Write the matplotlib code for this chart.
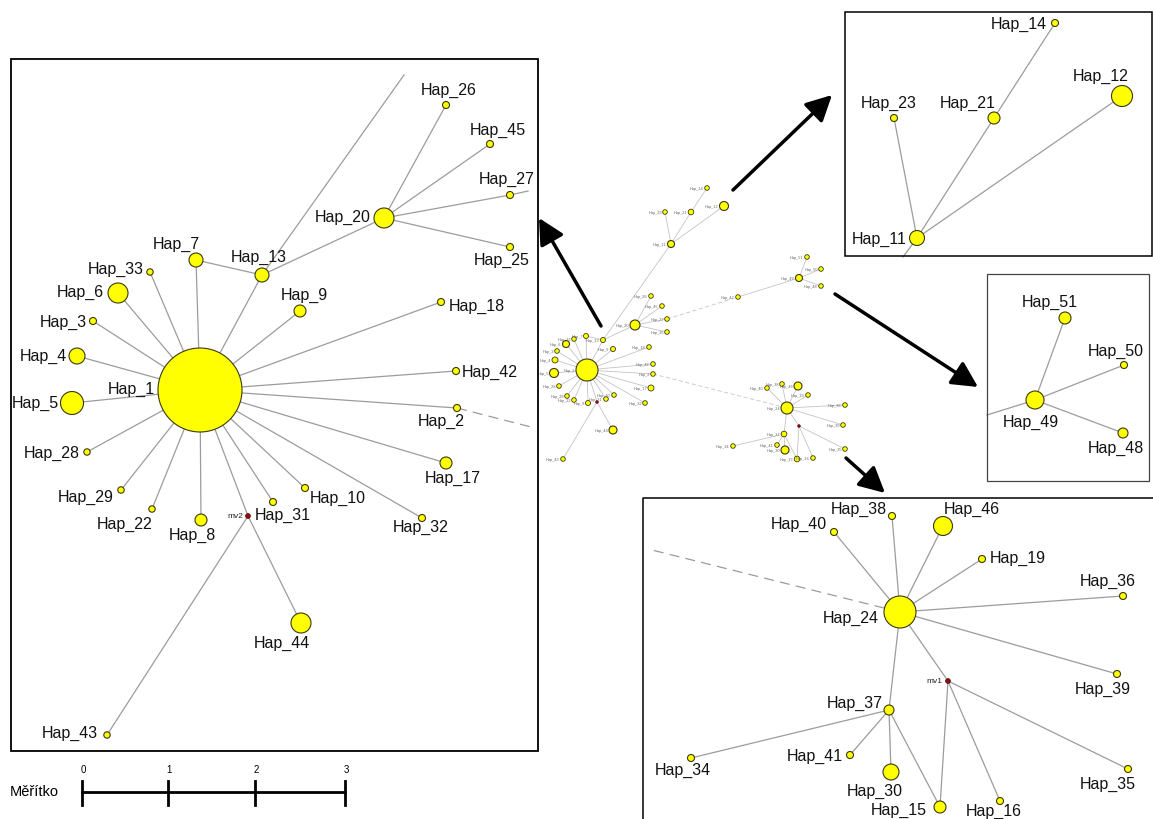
import matplotlib
matplotlib.use('Agg')
import matplotlib.pyplot as plt
from matplotlib.patches import Circle

plt.rcParams['font.family'] = ['Liberation Sans', 'DejaVu Sans']

# ---- data: node name, position (px), radius (haplotype frequency) ----
# left panel - Hap_1 star
a_names = ['Hap_1', 'Hap_5', 'Hap_4', 'Hap_3', 'Hap_6', 'Hap_33', 'Hap_7', 'Hap_13', 'Hap_20',
           'Hap_26', 'Hap_45', 'Hap_27', 'Hap_25', 'Hap_9', 'Hap_18', 'Hap_42', 'Hap_2', 'Hap_17',
           'Hap_32', 'Hap_10', 'Hap_31', 'mv2', 'Hap_8', 'Hap_22', 'Hap_29', 'Hap_28', 'Hap_44', 'Hap_43']
a_x = [200, 72, 77, 93, 118, 150, 196, 262, 384, 446, 490, 510, 510, 300, 441, 456, 457, 446,
       422, 305, 273, 248, 201, 152, 121, 87, 301, 107]
a_y = [391, 404, 357, 322, 294, 273, 261, 276, 219, 106, 145, 196, 248, 312, 303, 372, 409, 464,
       519, 489, 503, 517, 521, 510, 491, 453, 624, 736]
a_r = [42, 11.5, 8, 3.5, 10, 3.2, 7, 7, 10, 3.5, 3.5, 3.5, 3.5, 6, 3.5, 3.5, 3.5, 6,
       3.5, 3.5, 3.5, 2.4, 6, 3.2, 3.2, 3.2, 10, 3.2]
a_edges = [('Hap_1', n) for n in ['Hap_5', 'Hap_4', 'Hap_3', 'Hap_6', 'Hap_33', 'Hap_7', 'Hap_13',
                                   'Hap_9', 'Hap_18', 'Hap_42', 'Hap_2', 'Hap_17', 'Hap_32', 'Hap_10',
                                   'Hap_31', 'mv2', 'Hap_8', 'Hap_22', 'Hap_29', 'Hap_28']]
a_edges += [('Hap_7', 'Hap_13'), ('Hap_13', 'Hap_20'), ('Hap_20', 'Hap_26'), ('Hap_20', 'Hap_45'),
            ('Hap_20', 'Hap_27'), ('Hap_20', 'Hap_25'), ('mv2', 'Hap_44'), ('mv2', 'Hap_43')]

# top right panel - Hap_11
b_names = ['Hap_11', 'Hap_23', 'Hap_21', 'Hap_14', 'Hap_12']
b_x = [917, 894, 994, 1055, 1122]
b_y = [239, 119, 119, 24, 97]
b_r = [7.5, 3.5, 6, 3.5, 10.5]
b_edges = [('Hap_11', 'Hap_23'), ('Hap_11', 'Hap_21'), ('Hap_21', 'Hap_14'), ('Hap_11', 'Hap_12')]

# middle right panel - Hap_49
c_names = ['Hap_49', 'Hap_51', 'Hap_50', 'Hap_48']
c_x = [1035, 1065, 1124, 1123]
c_y = [401, 319, 366, 434]
c_r = [9, 6, 3.5, 5]
c_edges = [('Hap_49', 'Hap_51'), ('Hap_49', 'Hap_50'), ('Hap_49', 'Hap_48')]

# bottom right panel - Hap_24
d_names = ['Hap_24', 'Hap_40', 'Hap_38', 'Hap_46', 'Hap_19', 'Hap_36', 'Hap_39', 'mv1', 'Hap_37',
           'Hap_34', 'Hap_41', 'Hap_30', 'Hap_15', 'Hap_16', 'Hap_35']
d_x = [900, 834, 892, 943, 982, 1123, 1117, 948, 889, 691, 850, 891, 940, 1000, 1128]
d_y = [613, 533, 517, 527, 560, 597, 675, 682, 711, 759, 756, 773, 808, 802, 770]
d_r = [16, 3.5, 3.5, 9.5, 3.5, 3.5, 3.5, 2.4, 5, 3.5, 3.5, 8, 6, 3.5, 3.5]
d_edges = [('Hap_24', n) for n in ['Hap_40', 'Hap_38', 'Hap_46', 'Hap_19', 'Hap_36', 'Hap_39', 'mv1', 'Hap_37']]
d_edges += [('Hap_37', 'Hap_34'), ('Hap_37', 'Hap_41'), ('Hap_37', 'Hap_30'), ('Hap_37', 'Hap_15'),
            ('mv1', 'Hap_15'), ('mv1', 'Hap_16'), ('mv1', 'Hap_35')]

# overview network in the middle
o_names = ['Hap_1', 'Hap_5', 'Hap_4', 'Hap_3', 'Hap_6', 'Hap_33', 'Hap_7', 'Hap_13', 'Hap_9',
           'Hap_18', 'Hap_42', 'Hap_2', 'Hap_17', 'Hap_32', 'Hap_10', 'Hap_31', 'mv2', 'Hap_8',
           'Hap_22', 'Hap_29', 'Hap_28', 'Hap_44', 'Hap_43', 'Hap_20', 'Hap_26', 'Hap_45', 'Hap_27',
           'Hap_25', 'Hap_11', 'Hap_23', 'Hap_21', 'Hap_14', 'Hap_12', 'Hap_47', 'Hap_49', 'Hap_51',
           'Hap_50', 'Hap_48', 'Hap_24', 'Hap_40', 'Hap_38', 'Hap_46', 'Hap_19', 'Hap_36', 'Hap_39',
           'mv1', 'Hap_37', 'Hap_34', 'Hap_41', 'Hap_30', 'Hap_15', 'Hap_16', 'Hap_35']
o_x = [587, 554, 555, 557, 566, 574, 586, 603, 613, 649, 653, 653, 651, 645, 614, 606, 597, 588,
       574, 567, 559, 613, 563, 635, 651, 662, 667, 667, 671, 665, 691, 707, 724, 738, 799, 807,
       821, 821, 787, 767, 782, 798, 808, 845, 843, 799, 784, 733, 777, 785, 797, 813, 845]
o_y = [371, 374, 361, 352, 345, 340, 337, 341, 350, 348, 365, 375, 389, 404, 396, 400, 403, 404,
       401, 397, 387, 431, 460, 326, 297, 307, 320, 333, 245, 213, 213, 189, 207, 298, 279, 258,
       270, 287, 409, 389, 385, 387, 396, 406, 426, 427, 435, 447, 446, 451, 460, 459, 450]
o_r = [11, 4.5, 3, 2.3, 3.5, 2.3, 2.5, 2.5, 2.5, 2.3, 2.3, 2.3, 3, 2.3, 2.3, 2.3, 1.3, 2.5,
       2.3, 2.3, 2.3, 4, 2.3, 5, 2.3, 2.3, 2.3, 2.3, 3.5, 2.3, 2.8, 2.3, 4.5, 2.3, 3.5, 2.3,
       2.3, 2.3, 6, 2.3, 2.3, 4, 2.3, 2.3, 2.3, 1.3, 2.8, 2.3, 2.3, 4, 2.8, 2.3, 2.3]
o_edges = a_edges + b_edges + c_edges + d_edges + [('Hap_13', 'Hap_11'), ('Hap_47', 'Hap_49')]
o_dashed = [('Hap_27', 'Hap_47'), ('Hap_2', 'Hap_24')]

# ---- layout: labels (x, y, ha) ----
a_lab = [(155, 389, 'right'), (59, 403, 'right'), (67, 356, 'right'), (87, 322, 'right'),
         (104, 292, 'right'), (144, 269, 'right'), (176, 244, 'center'), (259, 257, 'center'),
         (371, 217, 'right'), (449, 90, 'center'), (498, 130, 'center'), (507, 179, 'center'),
         (502, 260, 'center'), (304, 295, 'center'), (449, 306, 'left'), (462, 372, 'left'),
         (441, 421, 'center'), (453, 478, 'center'), (421, 527, 'center'), (310, 498, 'left'),
         (255, 515, 'left'), (243, 517, 'right'), (192, 535, 'center'), (125, 524, 'center'),
         (114, 497, 'right'), (80, 453, 'right'), (282, 643, 'center'), (98, 733, 'right')]
b_lab = [(907, 239, 'right'), (889, 103, 'center'), (968, 103, 'center'), (1047, 24, 'right'),
         (1101, 76, 'center')]
c_lab = [(1031, 422, 'center'), (1050, 302, 'center'), (1116, 351, 'center'), (1116, 448, 'center')]
d_lab = [(879, 618, 'right'), (799, 524, 'center'), (859, 509, 'center'), (972, 509, 'center'),
         (990, 558, 'left'), (1108, 581, 'center'), (1103, 689, 'center'), (942, 682, 'right'),
         (883, 703, 'right'), (683, 770, 'center'), (843, 756, 'right'), (875, 791, 'center'),
         (927, 810, 'right'), (994, 811, 'center'), (1108, 784, 'center')]

# edges leaving a panel (node, end x, end y, dashed)
stubs = [('Hap_13', 404, 76, False), ('Hap_27', 528, 192, False), ('Hap_2', 531, 428, True),
         ('Hap_11', 903, 258, False), ('Hap_49', 987, 416, False), ('Hap_24', 648, 550, True)]

EDGE = '#9c9c9c'
FILL = '#ffff00'
RIM = '#3a3a10'


def draw_net(ax, names, xs, ys, rs, edges, labels, lw=0.9, color=EDGE, fs=11.5):
    pos = {n: (x, y) for n, x, y in zip(names, xs, ys)}
    for s, t in edges:
        if s in pos and t in pos:
            ax.plot([pos[s][0], pos[t][0]], [pos[s][1], pos[t][1]], color=color, lw=lw, zorder=1)
    for n, x, y, r in zip(names, xs, ys, rs):
        if n.startswith('mv'):
            ax.add_patch(Circle((x, y), r, facecolor='#8b1010', edgecolor='#5a0000', lw=0.5, zorder=3))
        else:
            ax.add_patch(Circle((x, y), r, facecolor=FILL, edgecolor=RIM, lw=0.8 if r > 3 else 0.6, zorder=3))
    if labels is None:
        return pos
    for n, (lx, ly, ha) in zip(names, labels):
        if n.startswith('mv'):
            ax.text(lx, ly, n, fontsize=6, ha=ha, va='center', color='#222222', zorder=4)
        else:
            ax.text(lx, ly, n, fontsize=fs, ha=ha, va='center', color='#111111', zorder=4)
    return pos


fig = plt.figure(figsize=(11.53, 8.2), dpi=100)
ax = fig.add_axes([0, 0, 1, 1])
ax.set_xlim(0, 1153)
ax.set_ylim(820, 0)
ax.axis('off')

# panel frames
ax.add_patch(plt.Rectangle((11, 60), 527, 692, fill=False, ec='black', lw=1.3, zorder=5))
ax.add_patch(plt.Rectangle((845, 13), 307, 244, fill=False, ec='black', lw=1.1, zorder=5))
ax.add_patch(plt.Rectangle((987, 275), 162, 207, fill=False, ec='#444444', lw=0.9, zorder=5))
ax.plot([643, 643, 1153], [820, 499, 499], color='black', lw=1.1, zorder=5)

pos_all = {}
pos_all.update(draw_net(ax, a_names, a_x, a_y, a_r, a_edges, a_lab))
pos_all.update(draw_net(ax, b_names, b_x, b_y, b_r, b_edges, b_lab))
pos_all.update(draw_net(ax, c_names, c_x, c_y, c_r, c_edges, c_lab))
pos_all.update(draw_net(ax, d_names, d_x, d_y, d_r, d_edges, d_lab))

for n, ex, ey, dashed in stubs:
    sx, sy = pos_all[n]
    ax.plot([sx, ex], [sy, ey], color=EDGE, lw=0.9, ls=(0, (8, 5)) if dashed else '-', zorder=1)

# overview network
opos = draw_net(ax, o_names, o_x, o_y, o_r, o_edges, None, lw=0.6, color='#c4c4c4')
for s, t in o_dashed:
    ax.plot([opos[s][0], opos[t][0]], [opos[s][1], opos[t][1]], color='#c4c4c4', lw=0.6,
            ls=(0, (5, 3)), zorder=1)
for n, x, y, r in zip(o_names, o_x, o_y, o_r):
    if not n.startswith('mv'):
        ax.text(x - r - 1, y, n, fontsize=2.8, ha='right', va='center', color='#666666', zorder=4)

# arrows from the overview to the panels
arrows = [((601, 327), (539, 219)), ((733, 191), (832, 96)),
          ((835, 295), (978, 388)), ((846, 459), (885, 494))]
for tail, head in arrows:
    ax.annotate('', xy=head, xytext=tail,
                arrowprops=dict(arrowstyle='-|>,head_length=0.78,head_width=0.4', lw=2.5,
                                color='black', shrinkA=0, shrinkB=0, mutation_scale=20))

# scale bar
scale_vals = [0, 1, 2, 3]
scale_px = [82, 168, 255, 345]
ax.plot([scale_px[0], scale_px[-1]], [793, 793], color='black', lw=2, zorder=5)
for v, px in zip(scale_vals, scale_px):
    ax.plot([px, px], [782, 806], color='black', lw=2, zorder=5)
    ax.text(px + 1, 770, str(v), fontsize=7, ha='center', va='center')
ax.text(10, 792, 'Měřítko', fontsize=10.5, ha='left', va='center')

fig.savefig('out.png', dpi=100)
